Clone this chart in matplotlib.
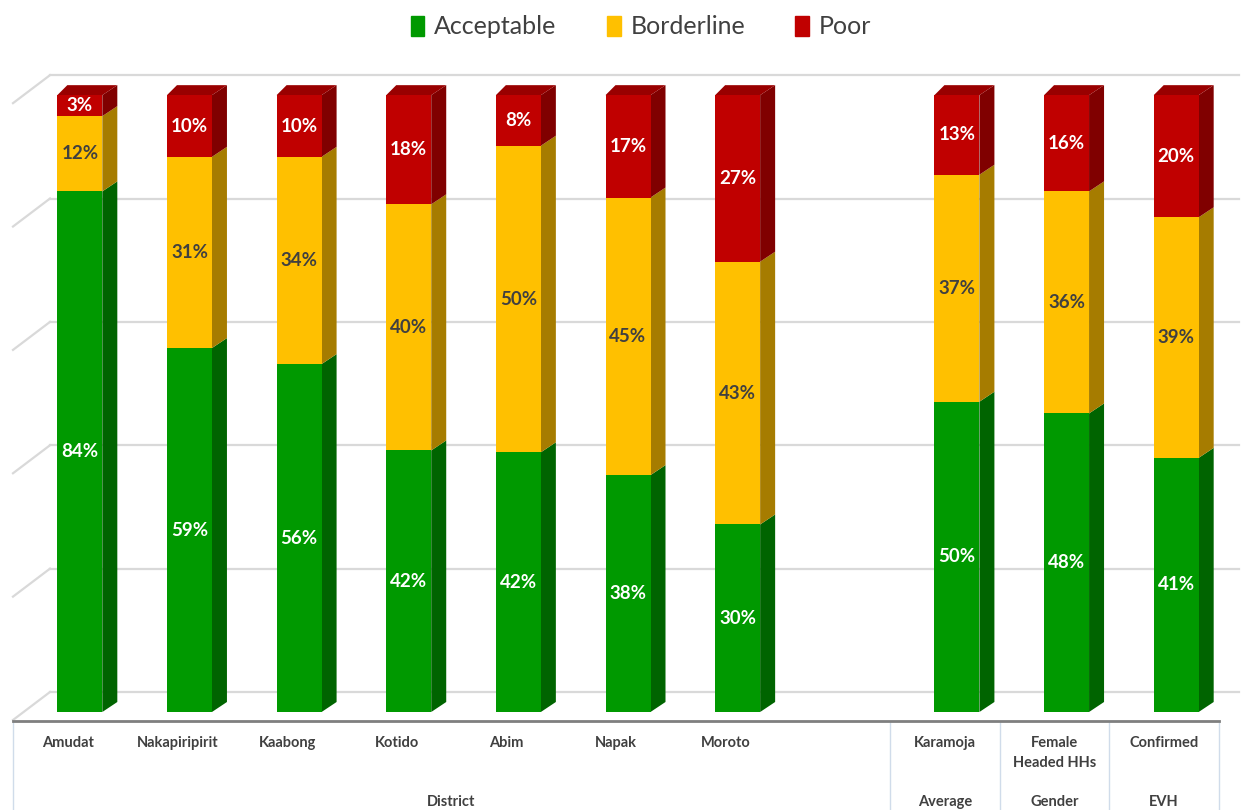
import matplotlib
matplotlib.use("Agg")
from matplotlib import pyplot as plt
from matplotlib.patches import Polygon
import numpy as np

# Datos
categorias = ["Amudat", "Nakapiripirit", "Kaabong", "Kotido", "Abim", "Napak", "Moroto",
              "", "Karamoja", "Female\nHeaded HHs", "Confirmed"]
grupos = ["District", "Average", "Gender", "EVH"]
aceptable = [84.4, 59.0, 56.4, 42.4, 42.1, 38.4, 30.4, None, 50.3, 48.4, 41.2]
limite = [12.2, 31.0, 33.6, 39.9, 49.7, 45.0, 42.6, None, 36.8, 36.0, 39.0]
pobre = [3.4, 10.0, 10.0, 17.7, 8.2, 16.6, 27.0, None, 12.9, 15.6, 19.8]
series = ["Acceptable", "Borderline", "Poor"]

frente = ["#009900", "#FFC000", "#C00000"]
lado = ["#006400", "#A67C00", "#800000"]
arriba = "#990000"
texto = ["white", "#404040", "white"]

W, H = 1243, 810
fig = plt.figure(figsize=(W / 100, H / 100), dpi=100)
# ejes en pixeles: x 13..1219, y 721 (abajo) .. 60 (arriba)
ax = fig.add_axes([13 / W, (H - 721) / H, (1219 - 13) / W, (721 - 60) / H])
ax.set_xlim(-0.5, 10.5)
ax.set_ylim(-1.46, 105.7)
ax.axis("off")

px_x = 11 / (1219 - 13)          # unidades x por pixel
px_y = 107.16 / (721 - 60)       # unidades y por pixel

# Rejilla (pared trasera y lateral)
for v in range(0, 101, 20):
    yb = v + 20 * px_y
    ax.plot([-0.5, -0.5 + 37 * px_x], [v - 8 * px_y, yb], color="#d9d9d9", lw=1.6,
            zorder=0, clip_on=False)
    ax.plot([-0.5 + 37 * px_x, 10.5 + 20 * px_x], [yb, yb], color="#d9d9d9", lw=1.6,
            zorder=0, clip_on=False)

# Barras 3D
ancho = 45 * px_x
desplaz = 12 * px_x
dxl, dxr, dy = 10 * px_x, 15 * px_x, 10 * px_y
for i in range(len(categorias)):
    if aceptable[i] is None:
        continue
    vals = [aceptable[i], limite[i], pobre[i]]
    xc = i + desplaz
    xl, xr = xc - ancho / 2, xc + ancho / 2
    base = 0
    for k, v in enumerate(vals):
        ax.bar(xc, v, bottom=base, width=ancho, color=frente[k], edgecolor="none", zorder=3)
        ax.add_patch(Polygon([(xr, base), (xr + dxr, base + dy), (xr + dxr, base + v + dy),
                              (xr, base + v)], closed=True, color=lado[k], lw=0, zorder=2))
        ax.text(xc, base + v / 2, f"{round(v)}%", ha="center", va="center", fontsize=13.5,
                fontweight="bold", color=texto[k], family="Lato", zorder=5)
        base += v
    ax.add_patch(Polygon([(xl, base), (xl + dxl, base + dy), (xr + dxr, base + dy),
                          (xr, base)], closed=True, color=arriba, lw=0, zorder=2))

# Eje de categorias
ax.plot([-0.5, 10.5], [-1.46, -1.46], color="#7f7f7f", lw=2, clip_on=False, zorder=4)
for xs in [-0.5, 7.5, 8.5, 9.5, 10.5]:
    ax.plot([xs, xs], [-1.46, -1.46 - 95 * px_y], color="#d0dcea", lw=1, clip_on=False)

for i, c in enumerate(categorias):
    ax.text(i, -1.46 - 15 * px_y, c, ha="center", va="top", fontsize=10.5, fontweight="bold",
            color="#404040", family="Lato", linespacing=1.55)
for g, xg in zip(grupos, [3.5, 8, 9, 10]):
    ax.text(xg, -1.46 - 74 * px_y, g, ha="center", va="top", fontsize=10.5, fontweight="bold",
            color="#404040", family="Lato")

# Leyenda
manijas = [plt.Rectangle((0, 0), 1, 1, color=c) for c in frente]
fig.legend(manijas, series, loc="center", bbox_to_anchor=(641 / W, 1 - 27 / H), ncol=3,
           frameon=False, prop={"family": "Lato", "size": 18}, labelcolor="#404040",
           handlelength=0.55, handleheight=0.9, handletextpad=0.4, columnspacing=2.0)

fig.savefig("out.png", dpi=100)
